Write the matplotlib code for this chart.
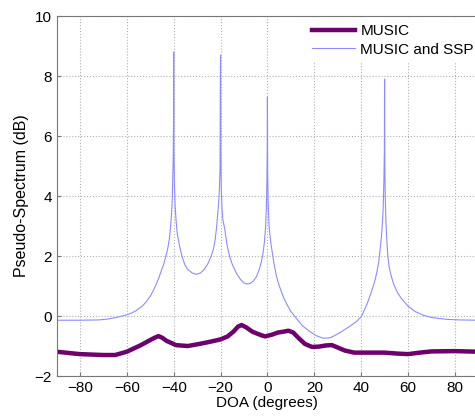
import matplotlib
matplotlib.use("Agg")
import matplotlib.pyplot as plt

# MUSIC and SSP (thin blue)
ssp_doa = [-90, -80, -72, -68, -64, -60, -58, -56, -54.5, -53, -51.5, -50,
           -48.7, -47.5, -46.3, -45.2, -44.3, -43.5, -42.9, -42.4, -41.8,
           -41.3, -40.9, -40.6, -40.4, -40.2, -40.05, -40.0, -39.9, -39.7,
           -39.4, -39.0, -38.5, -38.0, -37.4, -36.5, -35.2, -34, -32, -30.3,
           -28.5, -27, -25.3, -24, -23, -22.3, -21.7, -21.2, -20.8, -20.5,
           -20.2, -20.1, -20.0, -19.9, -19.7, -19.4, -19.0, -18.2, -17.2,
           -16.1, -15, -14, -13.2, -11.5, -10, -8.9, -7.5, -6, -4.7, -3.5,
           -2.6, -1.9, -1.3, -0.8, -0.45, -0.2, -0.08, 0.0, 0.1, 0.3, 0.7,
           1.2, 1.7, 2.3, 2.8, 3.9, 5, 6, 7, 8.1, 10, 12.4, 15, 18.1, 21,
           23.7, 26.5, 28, 31, 35, 38, 40.1, 42.5, 44, 45.1, 46, 46.8, 47.5,
           47.9, 48.4, 48.8, 49.1, 49.4, 49.7, 49.9, 50.0, 50.1, 50.3, 50.6,
           51.0, 51.4, 52, 52.8, 53.5, 54.3, 55.5, 57, 60, 63, 66.4, 70,
           76.4, 82, 90]
ssp_val = [-0.14, -0.14, -0.13, -0.10, -0.04, 0.04, 0.10, 0.18, 0.27, 0.36,
           0.50, 0.66, 0.85, 1.05, 1.28, 1.53, 1.72, 1.95, 2.12, 2.31, 2.6,
           3.0, 3.43, 3.9, 4.6, 5.3, 6.5, 8.8, 5.5, 4.4, 3.7, 3.2, 2.75,
           2.55, 2.3, 2.0, 1.7, 1.55, 1.43, 1.39, 1.44, 1.55, 1.76, 2.0,
           2.25, 2.55, 2.95, 3.4, 3.8, 4.2, 5.0, 7.6, 8.7, 5.5, 4.3, 3.6,
           3.2, 2.9, 2.35, 1.98, 1.72, 1.55, 1.42, 1.22, 1.10, 1.07, 1.08,
           1.17, 1.31, 1.55, 1.8, 2.09, 2.45, 2.95, 3.6, 4.6, 5.5, 7.3, 4.8,
           3.8, 3.0, 2.6, 2.31, 2.0, 1.75, 1.31, 1.02, 0.8, 0.6, 0.42, 0.15,
           -0.08, -0.33, -0.52, -0.66, -0.74, -0.73, -0.68, -0.55, -0.35,
           -0.18, -0.02, 0.4, 0.72, 0.98, 1.22, 1.5, 1.8, 2.09, 2.45, 2.8,
           3.15, 3.6, 4.5, 5.5, 7.9, 5.0, 3.9, 3.1, 2.45, 1.98, 1.6, 1.35,
           1.15, 0.98, 0.78, 0.6, 0.33, 0.15, 0.03, -0.05, -0.11, -0.13,
           -0.14]

# MUSIC (thick purple)
music_doa = [-90, -80, -70, -65, -60, -57, -54, -50, -48, -46.5, -45, -43,
             -39, -34, -29, -24, -20, -17, -14.5, -12.5, -11, -9, -6.5, -3,
             -1, 2, 4.5, 7, 9, 11, 13.5, 16, 19, 22, 25, 27.5, 30, 33, 37,
             50, 55, 60, 65, 70, 80, 90]
music_val = [-1.19, -1.27, -1.30, -1.30, -1.19, -1.08, -0.97, -0.80, -0.72,
             -0.67, -0.72, -0.83, -0.97, -1.00, -0.93, -0.85, -0.78, -0.68,
             -0.52, -0.35, -0.30, -0.38, -0.52, -0.63, -0.68, -0.62, -0.55,
             -0.52, -0.49, -0.55, -0.75, -0.93, -1.03, -1.02, -0.98, -0.97,
             -1.05, -1.15, -1.22, -1.22, -1.25, -1.27, -1.22, -1.18, -1.17,
             -1.19]

xticks = list(range(-80, 81, 20))
yticks = list(range(-2, 11, 2))

plt.rcParams['font.family'] = ['Liberation Sans', 'DejaVu Sans']

fig = plt.figure(figsize=(4.75, 4.19), dpi=100)
ax = fig.add_axes([0.119, 0.1026, 0.888, 0.859])

ax.plot(music_doa, music_val, color='#6e006e', lw=3.2, label='MUSIC',
        solid_joinstyle='round')
ax.plot(ssp_doa, ssp_val, color='#8c8cff', lw=0.8, label='MUSIC and SSP')

ax.set_xlim(-90, 90)
ax.set_ylim(-2, 10)
ax.set_xticks(xticks)
ax.set_yticks(yticks)
ax.tick_params(direction='in', labelsize=11, length=3, color='#777777')
ax.grid(True, linestyle=':', color='#b0b0b0', linewidth=0.8)
ax.set_axisbelow(True)
for s in ax.spines.values():
    s.set_color('#777777')
    s.set_linewidth(0.8)

ax.set_xlabel('DOA (degrees)', fontsize=11, labelpad=1)
ax.set_ylabel('Pseudo-Spectrum (dB)', fontsize=11.5, labelpad=4)

leg = ax.legend(loc='upper left', bbox_to_anchor=(0.592, 0.995), fontsize=11,
                handlelength=2.8, handletextpad=0.35, labelspacing=0.3,
                borderpad=0.4, borderaxespad=0, frameon=True, fancybox=False)
leg.get_frame().set_edgecolor('none')
leg.get_frame().set_facecolor('white')
leg.get_frame().set_alpha(1)

fig.savefig('out.png', dpi=100)
